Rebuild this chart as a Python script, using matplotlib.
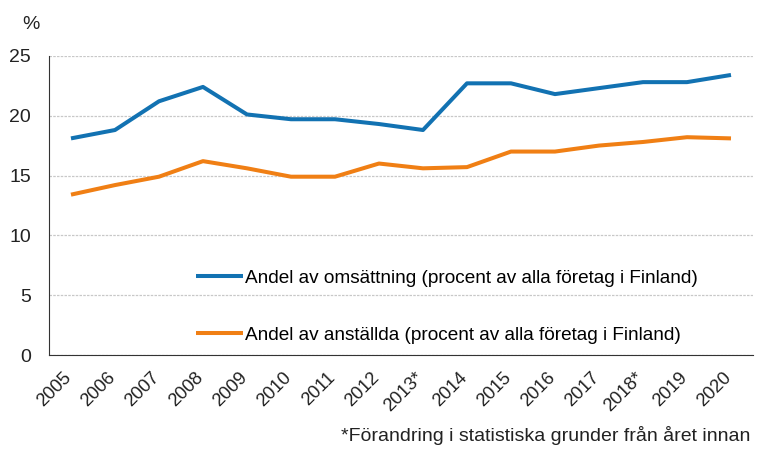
import matplotlib
matplotlib.use("Agg")
import matplotlib.pyplot as plt
from matplotlib.transforms import ScaledTranslation

plt.rcParams['font.family'] = ['Liberation Sans', 'DejaVu Sans']

years = ['2005', '2006', '2007', '2008', '2009', '2010', '2011', '2012',
         '2013*', '2014', '2015', '2016', '2017', '2018*', '2019', '2020']
omsattning = [18.1, 18.8, 21.2, 22.4, 20.1, 19.7, 19.7, 19.3,
              18.8, 22.7, 22.7, 21.8, 22.3, 22.8, 22.8, 23.4]
anstallda = [13.4, 14.2, 14.9, 16.2, 15.6, 14.9, 14.9, 16.0,
             15.6, 15.7, 17.0, 17.0, 17.5, 17.8, 18.2, 18.1]

label_oms = 'Andel av omsättning (procent av alla företag i Finland)'
label_ans = 'Andel av anställda (procent av alla företag i Finland)'

blue = '#1272b2'
orange = '#f07f14'

fig = plt.figure(figsize=(7.57, 4.5), dpi=100)
ax = fig.add_axes([0.0647, 0.211, 0.93, 0.665])

x = [i + 0.5 for i in range(len(years))]
ax.plot(x, omsattning, color=blue, lw=2.9, solid_capstyle='butt', label=label_oms)
ax.plot(x, anstallda, color=orange, lw=2.9, solid_capstyle='butt', label=label_ans)

ax.set_xlim(0, len(years))
ax.set_ylim(0, 25)
ax.set_yticks([0, 5, 10, 15, 20, 25])
ax.set_xticks(x)
ax.set_xticklabels(years, rotation=45, ha='right', rotation_mode='anchor')
ax.tick_params(axis='both', length=0, colors='#222222')
ax.tick_params(axis='y', pad=13, labelsize=14)
ax.tick_params(axis='x', pad=10, labelsize=13.2)

# shift year labels a bit left so they end under their point
shift = ScaledTranslation(-8 / 100, 0, fig.dpi_scale_trans)
for lbl in ax.get_xticklabels():
    lbl.set_transform(lbl.get_transform() + shift)

ax.yaxis.grid(True, color='#c8c8c8', lw=0.9, ls=(0, (2, 1)))
ax.set_axisbelow(True)
for s in ['top', 'right']:
    ax.spines[s].set_visible(False)
ax.spines['left'].set_color('#333333')
ax.spines['bottom'].set_color('#333333')

ax.legend(loc='upper left', bbox_to_anchor=(0.198, 0.312), frameon=False,
          fontsize=13.7, handlelength=2.45, handletextpad=0.15,
          labelspacing=2.1, borderaxespad=0)

fig.text(0.029, 0.935, '%', fontsize=14, color='#222222')
fig.text(0.991, 0.012, '*Förandring i statistiska grunder från året innan',
         ha='right', va='bottom', fontsize=14, color='#222222')

fig.savefig('out.png', dpi=100)
